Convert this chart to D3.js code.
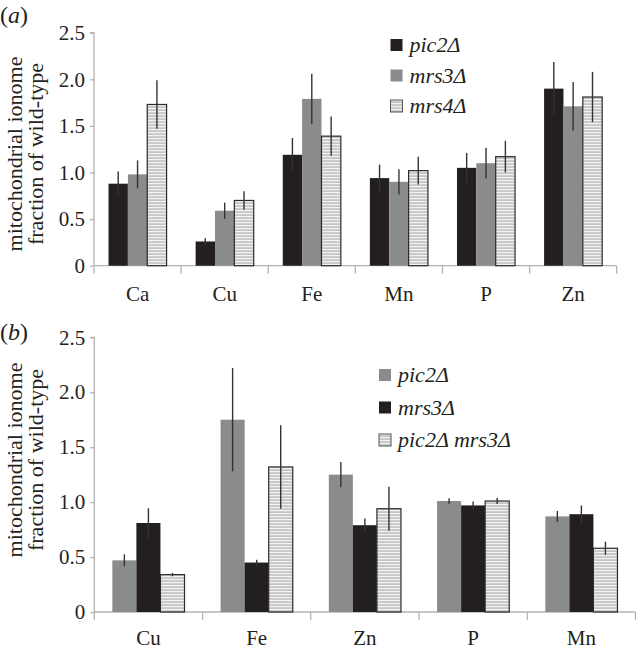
<!DOCTYPE html>
<html>
<head>
<meta charset="utf-8">
<script src="https://cdn.jsdelivr.net/npm/d3@7"></script>
<style>
  body { margin: 0; background: #fff; }
  text { font-family: "Liberation Serif", "Times New Roman", serif; fill: #231f20; }
</style>
</head>
<body>
<div id="chart"></div>
<script>
// panel (a)
let catsA = ["Ca", "Cu", "Fe", "Mn", "P", "Zn"];
let seriesA = ["pic2Δ", "mrs3Δ", "mrs4Δ"];
let pic2A = [0.88, 0.26, 1.19, 0.94, 1.05, 1.90];
let mrs3A = [0.98, 0.59, 1.79, 0.90, 1.10, 1.71];
let mrs4A = [1.73, 0.70, 1.39, 1.02, 1.17, 1.81];
let pic2ErrA = [0.13, 0.035, 0.18, 0.145, 0.16, 0.285];
let mrs3ErrA = [0.15, 0.087, 0.27, 0.135, 0.165, 0.26];
let mrs4ErrA = [0.26, 0.10, 0.21, 0.15, 0.17, 0.27];

// panel (b)
let catsB = ["Cu", "Fe", "Zn", "P", "Mn"];
let seriesB = ["pic2Δ", "mrs3Δ", "pic2Δ mrs3Δ"];
let pic2B = [0.47, 1.75, 1.25, 1.01, 0.87];
let mrs3B = [0.81, 0.45, 0.79, 0.97, 0.89];
let dblB = [0.34, 1.32, 0.94, 1.01, 0.58];
let pic2ErrB = [0.055, 0.47, 0.115, 0.025, 0.05];
let mrs3ErrB = [0.135, 0.025, 0.06, 0.035, 0.08];
let dblErrB = [0.015, 0.38, 0.2, 0.028, 0.06];

let yTicks = [0, 0.5, 1.0, 1.5, 2.0, 2.5];

const BLACK = "#231f20", GRAY = "#8a8b8d", AXIS = "#b3b3b3";

let svg = d3.select("#chart").append("svg")
  .attr("width", 636).attr("height", 651);

let defs = svg.append("defs");
let pat = defs.append("pattern")
  .attr("id", "hatch")
  .attr("patternUnits", "userSpaceOnUse")
  .attr("width", 6).attr("height", 3);
pat.append("rect").attr("width", 6).attr("height", 3).attr("fill", "#c6c6c6");
pat.append("rect").attr("width", 6).attr("height", 1.2).attr("fill", "#f2f2f2");

function drawPanel(p) {
  let g = svg.append("g");
  let y = d3.scaleLinear().domain([0, 2.5]).range([p.y0, p.y1]);
  let x0 = d3.scaleBand().domain(p.cats).range([p.xl, p.xr])
    .paddingInner(1 / 3).paddingOuter(1 / 6);
  let x1 = d3.scaleBand().domain(p.series).range([0, x0.bandwidth()]);

  // y axis
  let ya = g.append("g").attr("transform", `translate(${p.xl},0)`)
    .call(d3.axisLeft(y).tickValues(yTicks).tickSize(4).tickPadding(5)
      .tickFormat(d => d === 0 ? "0" : d3.format(".1f")(d)));
  ya.selectAll("path,line").attr("stroke", AXIS).attr("stroke-width", 1.3);
  ya.select(".domain").attr("d", `M-4,${p.y1}H0V${p.y0}`);
  ya.selectAll("text").attr("font-size", 21).attr("fill", BLACK)
    .style("font-family", "Liberation Serif");

  // x axis with labels
  let xa = g.append("g").attr("transform", `translate(0,${p.y0})`)
    .call(d3.axisBottom(x0).tickSize(0).tickPadding(p.labPad));
  xa.select(".domain").attr("stroke", AXIS).attr("stroke-width", 1.3)
    .attr("d", `M${p.xl},0H${p.xr}`);
  xa.selectAll("text").attr("font-size", 21).attr("fill", BLACK)
    .style("font-family", "Liberation Serif");
  let bounds = p.cats.map(c => x0(c) - x0.step() * x0.paddingInner() / 2);
  bounds.push(p.xr);
  xa.selectAll(".bound").data(bounds).join("line").attr("class", "bound")
    .attr("x1", d => d).attr("x2", d => d).attr("y1", 0).attr("y2", 8)
    .attr("stroke", AXIS).attr("stroke-width", 1.3);

  // bars
  let rows = [];
  p.cats.forEach((c, i) => {
    p.series.forEach((s, j) => {
      rows.push({ cat: c, ser: s, v: p.values[j][i], e: p.errors[j][i], fill: p.fills[j] });
    });
  });
  let bars = g.selectAll(".bar").data(rows).join("g").attr("class", "bar");
  bars.append("rect")
    .attr("x", d => x0(d.cat) + x1(d.ser))
    .attr("y", d => y(d.v))
    .attr("width", x1.bandwidth())
    .attr("height", d => y(0) - y(d.v))
    .attr("fill", d => d.fill)
    .attr("stroke", d => d.fill === "url(#hatch)" ? "#2b2b2b" : "none")
    .attr("stroke-width", 1.2);
  bars.append("line")
    .attr("x1", d => x0(d.cat) + x1(d.ser) + x1.bandwidth() / 2)
    .attr("x2", d => x0(d.cat) + x1(d.ser) + x1.bandwidth() / 2)
    .attr("y1", d => y(d.v - d.e))
    .attr("y2", d => y(d.v + d.e))
    .attr("stroke", "#333")
    .attr("stroke-width", 1.4);

  // y title
  let tx = g.append("text").attr("font-size", 22).attr("text-anchor", "middle")
    .attr("transform", `translate(${p.titleX},${p.titleY}) rotate(-90)`);
  tx.append("tspan").attr("x", 0).attr("y", 0).text("mitochondrial ionome");
  tx.append("tspan").attr("x", 0).attr("y", 21).text("fraction of wild-type");

  // panel letter
  let pl = g.append("text").attr("x", 0).attr("y", p.letterY).attr("font-size", 24);
  pl.append("tspan").text("(");
  pl.append("tspan").attr("font-style", "italic").text(p.letter);
  pl.append("tspan").text(")");

  // legend
  let lg = g.append("g").attr("transform", `translate(${p.legX},${p.legY})`);
  p.series.forEach((s, j) => {
    let row = lg.append("g").attr("transform", `translate(0,${j * p.legStep})`);
    row.append("rect").attr("x", 0).attr("y", -6).attr("width", 12).attr("height", 12)
      .attr("fill", p.fills[j])
      .attr("stroke", p.fills[j] === "url(#hatch)" ? "#555" : "none")
      .attr("stroke-width", 1);
    row.append("text").attr("x", 19).attr("y", 7).attr("font-size", 22)
      .attr("font-style", "italic").text(s);
  });
}

drawPanel({
  cats: catsA, series: seriesA,
  values: [pic2A, mrs3A, mrs4A], errors: [pic2ErrA, mrs3ErrA, mrs4ErrA],
  fills: [BLACK, GRAY, "url(#hatch)"],
  xl: 94, xr: 616.7, y0: 265.7, y1: 32.7, labPad: 20,
  titleX: 22, titleY: 154, letter: "a", letterY: 23,
  legX: 390.5, legY: 45, legStep: 30.5
});

drawPanel({
  cats: catsB, series: seriesB,
  values: [pic2B, mrs3B, dblB], errors: [pic2ErrB, mrs3ErrB, dblErrB],
  fills: [GRAY, BLACK, "url(#hatch)"],
  xl: 94.3, xr: 635.5, y0: 612, y1: 337.3, labPad: 18,
  titleX: 22, titleY: 460, letter: "b", letterY: 340,
  legX: 379, legY: 375, legStep: 32.5
});
</script>
</body>
</html>
